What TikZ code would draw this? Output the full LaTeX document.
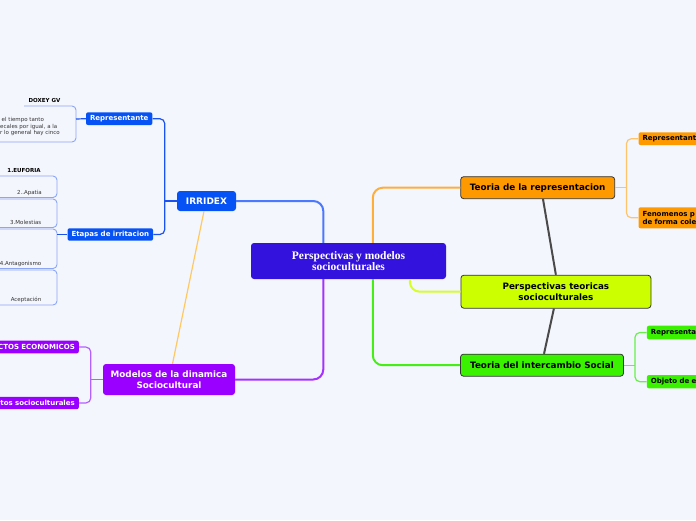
\documentclass[tikz,border=0pt]{standalone}
\usepackage{fontspec}
\setmainfont{DejaVu Sans}
\newfontfamily\serifb{Liberation Serif}
\usetikzlibrary{calc}
\definecolor{bgc}{HTML}{F4F6FE}
\definecolor{cCentral}{HTML}{3412DE}
\definecolor{cBlue}{HTML}{0652F5}
\definecolor{cPurple}{HTML}{9900FF}
\definecolor{cOrange}{HTML}{FF9900}
\definecolor{cYG}{HTML}{CCFF00}
\definecolor{cGreen}{HTML}{3AF200}
\definecolor{cBorder}{HTML}{333333}
\definecolor{cBlueC}{HTML}{4A78FF}
\definecolor{cOrC}{HTML}{FFAE3A}
\definecolor{cPuC}{HTML}{A630FF}
\definecolor{cGrC}{HTML}{44F014}
\definecolor{cYgC}{HTML}{D6FF2A}
\definecolor{cBlueK}{HTML}{1A52F0}
\definecolor{cBlueL}{HTML}{8AA6F5}
\definecolor{cOrK}{HTML}{FFC46A}
\definecolor{cPuK}{HTML}{B460FF}
\definecolor{cGrK}{HTML}{66F048}
\definecolor{cYline}{HTML}{FFC860}
\definecolor{cGray}{HTML}{4A4A4A}
\definecolor{cText}{HTML}{333333}
\tikzset{
  bigtopic/.style={rounded corners=3pt, inner sep=0pt, align=center,
    font=\bfseries\fontsize{8.8}{10.9}\selectfont},
  bordered/.style={draw=cBorder, line width=0.8pt},
  smalltopic/.style={rounded corners=2pt, inner ysep=0pt, inner xsep=4pt,
    font=\bfseries\fontsize{7}{8.5}\selectfont},
  cen/.style={line width=2pt, rounded corners=10pt},
  kid/.style={line width=1.2pt, rounded corners=5pt},
  outline/.style={draw=cBlueL, line width=0.9pt, rounded corners=4pt},
  gline/.style={draw=cGray, line width=2pt},
  note/.style={inner sep=0pt, text=cText, font=\fontsize{5.5}{6.5}\selectfont},
  notebold/.style={inner sep=0pt, text=black, font=\bfseries\fontsize{5.5}{6.5}\selectfont}
}
\begin{document}
\begin{tikzpicture}[x=1pt,y=-1pt]
\clip (0,0) rectangle (696,520);
\fill[bgc] (0,0) rectangle (696,520);

% main topics
\node[bigtopic, fill=cCentral, text=white, minimum width=195pt, minimum height=36pt,
  font=\serifb\bfseries\fontsize{11.5}{11.5}\selectfont] (c) at (348.5,261)
  {Perspectivas y modelos\\socioculturales};
\node[bigtopic, fill=cBlue, text=white, minimum width=59pt, minimum height=20pt,
  font=\bfseries\fontsize{9}{10}\selectfont] (irr) at (206.5,201) {IRRIDEX};
\node[bigtopic, fill=cPurple, text=white, minimum width=132pt, minimum height=31pt] (mod)
  at (169,379.5) {Modelos de la dinamica\\Sociocultural};
\node[bigtopic, bordered, fill=cOrange, text=black, minimum width=154pt, minimum height=22pt] (tr)
  at (537.7,187.7) {Teoria de la representacion};
\node[bigtopic, bordered, fill=cYG, text=black, minimum width=190pt, minimum height=33pt] (pt)
  at (555.9,291.7) {Perspectivas teoricas\\socioculturales};
\node[bigtopic, bordered, fill=cGreen, text=black, minimum width=163pt, minimum height=22pt] (ti)
  at (542,365.2) {Teoria del intercambio Social};

% small topics
\node[smalltopic, fill=cBlue, text=white, minimum width=65pt, minimum height=12.7pt] (rep)
  at (119.2,118.7) {Representante};
\node[smalltopic, fill=cBlue, text=white, minimum width=84pt, minimum height=12.4pt] (eta)
  at (110.3,234.5) {Etapas de irritacion};
\node[smalltopic, fill=cPurple, text=white, minimum height=12.7pt, text width=100pt, align=right,
  anchor=east] (eco) at (79,347) {CTOS ECONOMICOS};
\node[smalltopic, fill=cPurple, text=white, minimum height=12.4pt, text width=100pt, align=right,
  anchor=east] (soc) at (79,403) {ctos socioculturales};
\node[smalltopic, fill=cOrange, text=black, minimum height=12.7pt, text width=100pt, align=left,
  anchor=west] (repo) at (638.3,138.7) {Representante};
\node[smalltopic, fill=cOrange, text=black, minimum height=21pt, text width=100pt, align=left,
  anchor=west] (fen) at (638.3,217.8) {Fenomenos p\\de forma cole};
\node[smalltopic, fill=cGreen, text=black, minimum height=13.6pt, text width=100pt, align=left,
  anchor=west] (repg) at (646.7,332.5) {Representa};
\node[smalltopic, fill=cGreen, text=black, minimum height=13.3pt, text width=100pt, align=left,
  anchor=west] (obj) at (646.7,381.7) {Objeto de e};

% central connectors
\draw[cen, cBlueC] (irr.east) -| ($(c.north west)+(72.5,0)$);
\draw[cen, cOrC] (tr.west) -| ($(c.north west)+(122,0)$);
\draw[cen, cPuC] (mod.east) -| ($(c.south west)+(72.5,0)$);
\draw[cen, cGrC] (ti.west) -| ($(c.south west)+(122,0)$);
\draw[cen, cYgC] (pt.west) -| ($(c.south west)+(159,0)$);

% gray relation lines
\draw[gline] ($(tr.south)+(5.3,0)$) -- (pt.north);
\draw[gline] ($(pt.south)+(-2,0)$) -- ($(ti.north)+(2,0)$);
% yellow relation line
\draw[cYline, line width=1.2pt] ($(irr.south)+(-2.5,0)$) -- ($(mod.north)+(3.5,0)$);

% child connectors
\coordinate (oj) at ($(tr.east)+(11.3,0)$);
\draw[kid, cOrK] (repo.west) -| (oj) |- (fen.west);
\draw[kid, cOrK] (tr.east) -- (oj);
\coordinate (gj) at ($(ti.east)+(11,0)$);
\draw[kid, cGrK] (repg.west) -| (gj) |- (obj.west);
\draw[kid, cGrK] (ti.east) -- (gj);
\coordinate (bj) at ($(irr.west)+(-12,0)$);
\draw[kid, cBlueK] (rep.east) -| (bj) |- (eta.east);
\draw[kid, cBlueK] (irr.west) -- (bj);
\coordinate (pj) at ($(mod.west)+(-12,0)$);
\draw[kid, cPuK] (eco.east) -| (pj) |- (soc.east);
\draw[kid, cPuK] (mod.west) -- (pj);

% Representante note box
\draw[outline] (24,106) -- (76,106) -- (76,142) -- (-5,142);
\coordinate (nr) at (76,119);
\draw[cBlueK, line width=1.2pt] (nr) -- (rep.west);
\node[notebold] (doxey) at (44.5,100) {DOXEY GV};
\node[note, anchor=base west] (n1) at (1.5,121.8) {el tiempo tanto};
\node[note, anchor=base west] (n2) at (0,128.3) {ecales por igual, a la};
\node[note, anchor=base west] (n3) at (0,134.8) {r lo general hay cinco};

% Etapas boxes
\draw[outline] (-5,176) -- (57,176) -- (57,197.5) -- (-5,197.5);
\draw[outline] (-5,199) -- (57,199) -- (57,227.5) -- (-5,227.5);
\draw[outline] (-5,229) -- (57,229) -- (57,268.5) -- (-5,268.5);
\draw[outline] (-5,270) -- (57,270) -- (57,305) -- (-5,305);
\coordinate (ej) at (57,234.5);
\draw[cBlueK, line width=1.2pt] (ej) -- (eta.west);
\node[notebold, anchor=base] (e1) at (24,172) {1.EUFORIA};
\node[note, anchor=base east] (e2) at (42,194) {2..Apatia};
\node[note, anchor=base east] (e3) at (41.5,224) {3.Molestias};
\node[note, anchor=base east] (e4) at (41.5,265.5) {4.Antagonismo};
\node[note, anchor=base east] (e5) at (41.5,301.5) {Aceptación};
\end{tikzpicture}
\end{document}
